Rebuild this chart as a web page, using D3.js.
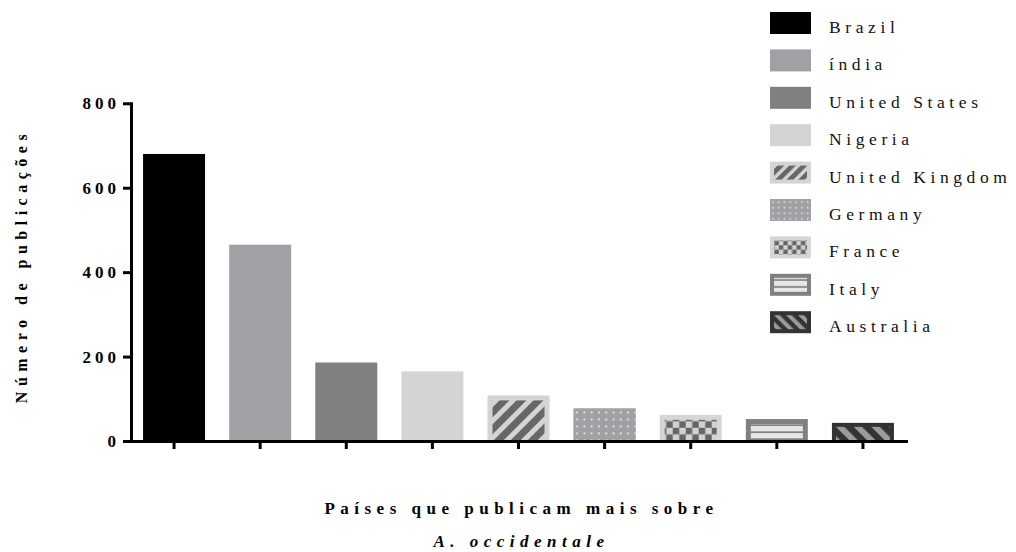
<!DOCTYPE html>
<html>
<head>
<meta charset="utf-8">
<script src="https://cdn.jsdelivr.net/npm/d3@7"></script>
<style>
  html, body { margin: 0; padding: 0; background: #fff; }
  svg { display: block; }
</style>
</head>
<body>
<svg id="chart" width="1016" height="552"></svg>
<script>
// Countries publishing most about A. occidentale, and publication counts
const countries = ["Brazil", "índia", "United States", "Nigeria", "United Kingdom",
                   "Germany", "France", "Italy", "Australia"];
const publications = [680, 465, 186, 165, 108, 77, 62, 52, 43];
const yTicks = [0, 200, 400, 600, 800];

// Fill style for each country: solid grey, or a frame colour around a pattern
const fills = [
  { fill: "#000000" },
  { fill: "#a1a0a5" },
  { fill: "#808080" },
  { fill: "#d4d4d4" },
  { frame: "#d4d4d4", pattern: "uk", inset: 5 },
  { frame: "#a1a0a5", pattern: "de", inset: 0 },
  { frame: "#d6d6d6", pattern: "fr", inset: 5 },
  { frame: "#808080", pattern: "it", inset: 5 },
  { frame: "#333333", pattern: "au", inset: 4 }
];

const serif = '"Liberation Serif", "Times New Roman", "DejaVu Serif", serif';
const svg = d3.select("#chart");
const defs = svg.append("defs");

// Pattern tiles; k scales them down for the smaller legend swatches
function addPatterns(suffix, k) {
  const p = (id, w, h, transform) => defs.append("pattern")
    .attr("id", id + suffix)
    .attr("patternUnits", "userSpaceOnUse")
    .attr("width", w).attr("height", h)
    .attr("patternTransform", transform);

  const uk = p("uk", 12, 12, `scale(${k}) rotate(45)`);
  uk.append("rect").attr("width", 12).attr("height", 12).attr("fill", "#d4d4d4");
  uk.append("rect").attr("width", 7).attr("height", 12).attr("fill", "#676767");

  const au = p("au", 12.5, 12.5, `scale(${k}) rotate(-45)`);
  au.append("rect").attr("width", 12.5).attr("height", 12.5).attr("fill", "#333333");
  au.append("rect").attr("width", 6).attr("height", 12.5).attr("fill", "#9b9b9b");

  const de = p("de", 7.3, 7, `scale(${Math.max(k, 0.8)})`);
  de.append("rect").attr("width", 7.3).attr("height", 7).attr("fill", "#a1a0a5");
  de.append("rect").attr("x", 2.5).attr("y", 3).attr("width", 1.8).attr("height", 1.8).attr("fill", "#ececec");

  const fr = p("fr", 13, 13, `scale(${k})`);
  fr.append("rect").attr("width", 13).attr("height", 13).attr("fill", "#d2d2d2");
  fr.append("rect").attr("width", 6.5).attr("height", 6.5).attr("fill", "#666666");
  fr.append("rect").attr("x", 6.5).attr("y", 6.5).attr("width", 6.5).attr("height", 6.5).attr("fill", "#666666");

  // horizontal bands keep their size in both places
  const it = p("it", 10, 7, null);
  it.append("rect").attr("width", 10).attr("height", 7).attr("fill", "#e6e6e6");
  it.append("rect").attr("y", 5.3).attr("width", 10).attr("height", 1.7).attr("fill", "#808080");
}
addPatterns("", 1);
addPatterns("-lg", 0.68);

// Draws a filled box (solid or framed pattern) at the group's origin
function drawSwatch(g, style, w, h, suffix, inset) {
  if (style.pattern) {
    g.append("rect").attr("width", w).attr("height", h).attr("fill", style.frame);
    const ins = inset !== undefined && style.inset > 0 ? inset : style.inset;
    const bottomGap = inset !== undefined ? ins : 0;
    g.append("rect")
      .attr("x", ins).attr("y", ins)
      .attr("width", Math.max(0, w - 2 * ins)).attr("height", Math.max(0, h - ins - bottomGap))
      .attr("fill", `url(#${style.pattern}${suffix})`);
  } else {
    g.append("rect").attr("width", w).attr("height", h).attr("fill", style.fill);
  }
}

const plotLeft = 131, plotRight = 906, plotTop = 103.3, plotBottom = 441;

const x = d3.scaleBand()
  .domain(countries)
  .range([plotLeft, plotRight])
  .paddingInner(0.28)
  .paddingOuter(0.14);

const y = d3.scaleLinear()
  .domain([0, 800])
  .range([plotBottom, plotTop]);

// Bars
countries.forEach((c, i) => {
  const g = svg.append("g")
    .attr("transform", `translate(${x(c)},${y(publications[i])})`);
  drawSwatch(g, fills[i], x.bandwidth(), y(0) - y(publications[i]), "");
});

// Y axis
const yAxis = svg.append("g")
  .attr("transform", `translate(${plotLeft},0)`)
  .call(d3.axisLeft(y).tickValues(yTicks).tickSize(8).tickSizeOuter(0).tickPadding(3));
yAxis.attr("font-family", serif);
yAxis.select(".domain").attr("stroke", "#000").attr("stroke-width", 3).attr("stroke-linecap", "square");
yAxis.selectAll(".tick line").attr("stroke", "#000").attr("stroke-width", 3);
yAxis.selectAll(".tick text")
  .attr("font-family", serif)
  .attr("font-size", 17)
  .attr("font-weight", "bold")
  .attr("letter-spacing", "4px")
  .attr("fill", "#000");

// X axis (ticks only, no labels)
const xAxis = svg.append("g")
  .attr("transform", `translate(0,${plotBottom})`)
  .call(d3.axisBottom(x).tickSize(8).tickSizeOuter(0).tickFormat(""));
xAxis.select(".domain").attr("stroke", "#000").attr("stroke-width", 3).attr("stroke-linecap", "square");
xAxis.selectAll(".tick line").attr("stroke", "#000").attr("stroke-width", 3);

// Axis titles
svg.append("text")
  .attr("transform", `translate(27,266) rotate(-90)`)
  .attr("text-anchor", "middle")
  .attr("font-family", serif)
  .attr("font-size", 16)
  .attr("font-weight", "bold")
  .attr("letter-spacing", "5.5px")
  .text("Número de publicações");

svg.append("text")
  .attr("x", (plotLeft + plotRight) / 2 + 3)
  .attr("y", 514)
  .attr("text-anchor", "middle")
  .attr("font-family", serif)
  .attr("font-size", 17)
  .attr("font-weight", "bold")
  .attr("letter-spacing", "5.5px")
  .text("Países que publicam mais sobre");

svg.append("text")
  .attr("x", (plotLeft + plotRight) / 2 + 3)
  .attr("y", 547)
  .attr("text-anchor", "middle")
  .attr("font-family", serif)
  .attr("font-size", 17)
  .attr("font-weight", "bold")
  .attr("font-style", "italic")
  .attr("letter-spacing", "5.5px")
  .text("A. occidentale");

// Legend
const legend = svg.append("g").attr("transform", "translate(770,12)");
countries.forEach((c, i) => {
  const row = legend.append("g").attr("transform", `translate(0,${i * 37.4})`);
  drawSwatch(row, fills[i], 41, 22, "-lg", 4);
  row.append("text")
    .attr("x", 59)
    .attr("y", 21)
    .attr("font-family", serif)
    .attr("font-size", 17.5)
    .attr("letter-spacing", "4.6px")
    .attr("fill", "#111")
    .text(c);
});
</script>
</body>
</html>
